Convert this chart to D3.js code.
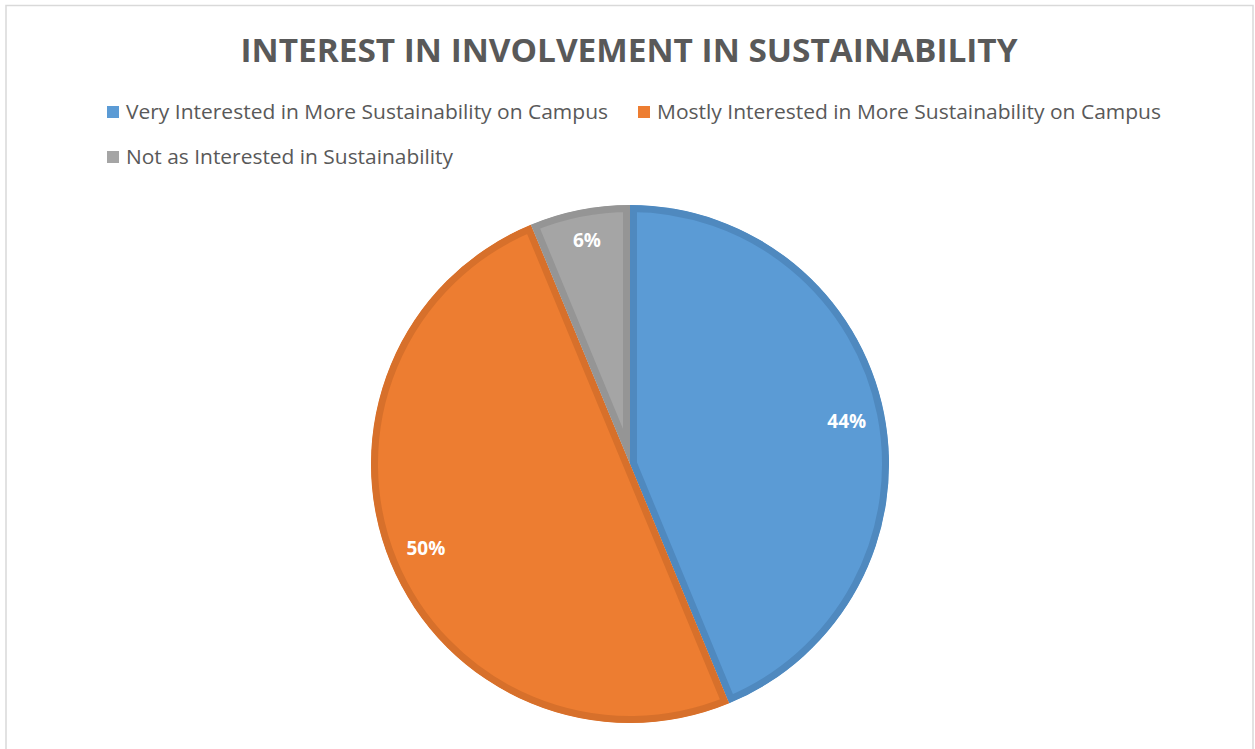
<!DOCTYPE html>
<html>
<head>
<meta charset="utf-8">
<script src="https://cdn.jsdelivr.net/npm/d3@7"></script>
<style>
  body { margin: 0; background: #fff; }
  text { font-family: "Open Sans", "Noto Sans", sans-serif; }
</style>
</head>
<body>
<svg id="chart" width="1255" height="749"></svg>
<script>
// data
var categories = [
  "Very Interested in More Sustainability on Campus",
  "Mostly Interested in More Sustainability on Campus",
  "Not as Interested in Sustainability"
];
var values = [43.75, 50, 6.25];
var labels = ["44%", "50%", "6%"];
var fills = ["#5B9BD5", "#ED7D31", "#A5A5A5"];
var strokes = ["#4F89BF", "#D7702B", "#959595"];

var svg = d3.select("#chart");

// frame
svg.append("rect")
  .attr("x", 6).attr("y", 5.5)
  .attr("width", 1247).attr("height", 760)
  .attr("fill", "none").attr("stroke", "#d9d9d9").attr("stroke-width", 1.5);

// title
svg.append("text")
  .attr("x", 629).attr("y", 62)
  .attr("text-anchor", "middle")
  .attr("fill", "#595959")
  .style("font-size", "33px").style("font-weight", "bold")
  .attr("textLength", 777).attr("lengthAdjust", "spacingAndGlyphs")
  .text("INTEREST IN INVOLVEMENT IN SUSTAINABILITY");

// legend
var legendPos = [
  {x: 107, y: 112, w: 482},
  {x: 638, y: 112, w: 504},
  {x: 107, y: 157, w: 327}
];
var legend = svg.append("g").attr("class", "legend");
categories.forEach(function (c, i) {
  var p = legendPos[i];
  legend.append("rect")
    .attr("x", p.x).attr("y", p.y - 6)
    .attr("width", 12).attr("height", 12)
    .attr("fill", fills[i]);
  legend.append("text")
    .attr("x", p.x + 19).attr("y", p.y)
    .attr("dy", "0.36em")
    .attr("fill", "#595959")
    .style("font-size", "20px")
    .attr("textLength", p.w).attr("lengthAdjust", "spacingAndGlyphs")
    .text(c);
});

// pie
var cx = 630, cy = 464, radius = 259;
var pie = d3.pie().sort(null).value(function (d) { return d; });
var arcs = pie(values);
var arc = d3.arc().innerRadius(0).outerRadius(radius);
var labelArc = d3.arc().innerRadius(221).outerRadius(221);

var g = svg.append("g").attr("transform", "translate(" + cx + "," + cy + ")");
var defs = svg.append("defs");

arcs.forEach(function (a, i) {
  defs.append("clipPath").attr("id", "clip" + i)
    .append("path").attr("d", arc(a));
  g.append("path")
    .attr("d", arc(a))
    .attr("fill", fills[i])
    .attr("stroke", strokes[i])
    .attr("stroke-width", 14)
    .attr("stroke-linejoin", "miter")
    .attr("clip-path", "url(#clip" + i + ")");
});

arcs.forEach(function (a, i) {
  var c = labelArc.centroid(a);
  g.append("text")
    .attr("x", c[0]).attr("y", c[1] + (i == 2 ? -7 : 0))
    .attr("text-anchor", "middle")
    .attr("dy", "0.35em")
    .attr("fill", "#fff")
    .style("font-size", "19px").style("font-weight", "bold")
    .text(labels[i]);
});
</script>
</body>
</html>
